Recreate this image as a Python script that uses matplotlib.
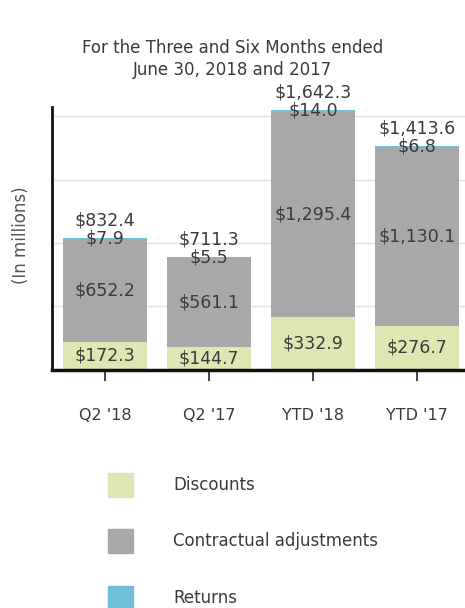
import matplotlib
matplotlib.use("Agg")
import matplotlib.pyplot as plt
import numpy as np

categories = ["Q2 '18", "Q2 '17", "YTD '18", "YTD '17"]
discounts = [172.3, 144.7, 332.9, 276.7]
contractual = [652.2, 561.1, 1295.4, 1130.1]
returns = [7.9, 5.5, 14.0, 6.8]
totals = [832.4, 711.3, 1642.3, 1413.6]
series_names = ["Discounts", "Contractual adjustments", "Returns"]

c_disc = "#dfe6b4"
c_cont = "#a8a8a8"
c_ret = "#72bfdc"
txt = "#3a3a3a"

fig = plt.figure(figsize=(4.65, 6.08), dpi=100)
ax = fig.add_axes([52/465, 1-369.5/608, (469-52)/465, (369.5-107)/608])

x = np.arange(len(categories))
w = 0.8
ax.bar(x, discounts, w, color=c_disc, zorder=2)
ax.bar(x, contractual, w, bottom=discounts, color=c_cont, zorder=2)
bot3 = np.array(discounts) + np.array(contractual)
ax.bar(x, returns, w, bottom=bot3, color=c_ret, zorder=2)

fs = 12.5
for i in range(len(x)):
    ax.text(x[i], discounts[i]/2, f"${discounts[i]:,.1f}", ha="center", va="center",
            fontsize=fs, color=txt, zorder=3)
    ax.text(x[i], discounts[i] + contractual[i]/2, f"${contractual[i]:,.1f}", ha="center",
            va="center", fontsize=fs, color=txt, zorder=3)
    ax.text(x[i], bot3[i] + returns[i]/2, f"${returns[i]:,.1f}", ha="center",
            va="center", fontsize=fs, color=txt, zorder=3)
    ax.annotate(f"${totals[i]:,.1f}", (x[i], totals[i]), xytext=(0, 12.5),
                textcoords="offset points", ha="center", va="center",
                fontsize=fs, color=txt, zorder=3, annotation_clip=False)

ax.set_xlim(-0.51, 3.5)
ax.set_ylim(0, 1660)
ax.set_yticks([400, 800, 1200, 1600])
ax.yaxis.grid(True, color="#e2e2e2", linewidth=1, zorder=0)
ax.tick_params(axis="y", left=False, labelleft=False)
ax.set_xticks(x)
ax.set_xticklabels(categories, fontsize=11.5, color=txt)
ax.tick_params(axis="x", direction="out", length=8, width=1.2, color="#222222", pad=20)
for s in ["top", "right"]:
    ax.spines[s].set_visible(False)
ax.spines["left"].set_linewidth(2)
ax.spines["bottom"].set_linewidth(2.5)
ax.spines["left"].set_color("#111111")
ax.spines["bottom"].set_color("#111111")

fig.text(0.5, 1-48/608, "For the Three and Six Months ended", ha="center", va="center",
         fontsize=12, color=txt)
fig.text(0.5, 1-70/608, "June 30, 2018 and 2017", ha="center", va="center",
         fontsize=12, color=txt)
fig.text(21/465, 1-235/608, "(In millions)", rotation=90, ha="center", va="center",
         fontsize=12, color="#555555")

# legend
leg_colors = [c_disc, c_cont, c_ret]
leg_y = [485, 541, 598]
for name, col, yy in zip(series_names, leg_colors, leg_y):
    fig.patches.append(plt.Rectangle((108/465, 1-(yy+12)/608), 25/465, 24/608,
                                     transform=fig.transFigure, color=col, figure=fig))
    fig.text(173/465, 1-yy/608, name, ha="left", va="center", fontsize=12, color=txt)

fig.savefig("out.png", dpi=100)
